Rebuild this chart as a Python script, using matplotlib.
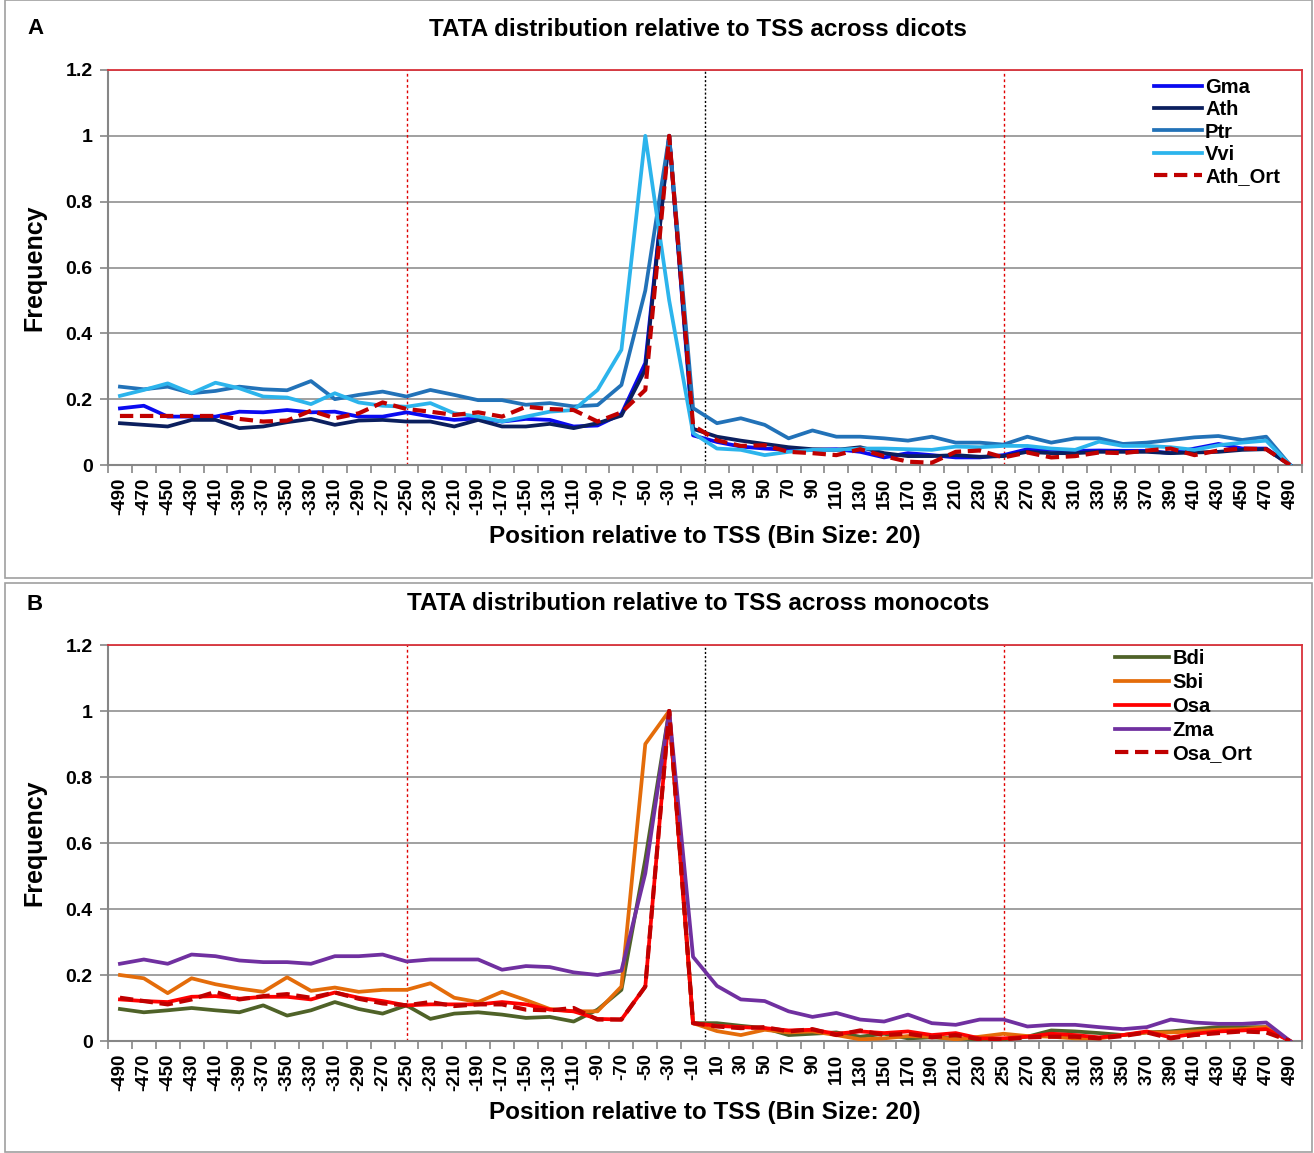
import matplotlib
matplotlib.use("Agg")
import matplotlib.pyplot as plt
import numpy as np
from matplotlib.patches import Rectangle

plt.rcParams['font.family'] = ['Liberation Sans', 'DejaVu Sans']

positions = [-490, -470, -450, -430, -410, -390, -370, -350, -330, -310, -290, -270, -250,
             -230, -210, -190, -170, -150, -130, -110, -90, -70, -50, -30, -10,
             10, 30, 50, 70, 90, 110, 130, 150, 170, 190, 210, 230, 250,
             270, 290, 310, 330, 350, 370, 390, 410, 430, 450, 470, 490]

# Panel A: dicots
gma = [0.172, 0.18, 0.147, 0.147, 0.147, 0.162, 0.16, 0.167, 0.16, 0.162, 0.147, 0.147, 0.16,
       0.147, 0.137, 0.142, 0.132, 0.14, 0.137, 0.117, 0.12, 0.155, 0.31, 1.0, 0.09,
       0.07, 0.056, 0.05, 0.046, 0.046, 0.048, 0.04, 0.023, 0.036, 0.03, 0.023, 0.023, 0.03,
       0.048, 0.046, 0.043, 0.044, 0.043, 0.043, 0.036, 0.05, 0.064, 0.05, 0.05, 0.0]
ath = [0.127, 0.122, 0.117, 0.137, 0.137, 0.112, 0.117, 0.13, 0.14, 0.122, 0.135, 0.137, 0.132,
       0.132, 0.117, 0.137, 0.117, 0.117, 0.125, 0.112, 0.127, 0.15, 0.29, 1.0, 0.11,
       0.086, 0.074, 0.064, 0.054, 0.048, 0.046, 0.054, 0.036, 0.027, 0.027, 0.03, 0.025, 0.027,
       0.04, 0.036, 0.036, 0.04, 0.04, 0.04, 0.036, 0.038, 0.04, 0.046, 0.048, 0.0]
ptr = [0.238, 0.23, 0.238, 0.218, 0.225, 0.238, 0.23, 0.227, 0.255, 0.2, 0.213, 0.223, 0.208,
       0.228, 0.213, 0.197, 0.197, 0.183, 0.188, 0.178, 0.182, 0.243, 0.53, 1.0, 0.173,
       0.127, 0.142, 0.122, 0.081, 0.105, 0.086, 0.086, 0.081, 0.074, 0.086, 0.068, 0.068, 0.062,
       0.086, 0.068, 0.081, 0.081, 0.064, 0.068, 0.076, 0.084, 0.088, 0.076, 0.086, 0.0]
vvi = [0.21, 0.228, 0.248, 0.218, 0.25, 0.233, 0.208, 0.205, 0.185, 0.218, 0.19, 0.18, 0.177,
       0.188, 0.157, 0.147, 0.132, 0.147, 0.162, 0.167, 0.228, 0.35, 1.0, 0.5, 0.097,
       0.05, 0.046, 0.03, 0.04, 0.046, 0.046, 0.05, 0.05, 0.048, 0.046, 0.056, 0.054, 0.058,
       0.058, 0.05, 0.046, 0.071, 0.058, 0.058, 0.054, 0.046, 0.06, 0.068, 0.074, 0.0]
ath_ort = [0.149, 0.149, 0.149, 0.149, 0.149, 0.14, 0.132, 0.135, 0.165, 0.142, 0.157, 0.19, 0.17,
           0.162, 0.152, 0.16, 0.147, 0.177, 0.17, 0.167, 0.132, 0.16, 0.228, 1.0, 0.12,
           0.075, 0.058, 0.06, 0.04, 0.036, 0.03, 0.048, 0.027, 0.01, 0.007, 0.04, 0.044, 0.023,
           0.038, 0.023, 0.027, 0.038, 0.036, 0.044, 0.05, 0.03, 0.044, 0.05, 0.048, 0.0]

# Panel B: monocots
bdi = [0.097, 0.087, 0.093, 0.1, 0.093, 0.087, 0.108, 0.077, 0.093, 0.118, 0.097, 0.083, 0.108,
       0.067, 0.083, 0.087, 0.08, 0.07, 0.073, 0.059, 0.095, 0.155, 0.55, 1.0, 0.054,
       0.054, 0.046, 0.039, 0.018, 0.022, 0.026, 0.013, 0.022, 0.008, 0.011, 0.008, 0.005, 0.005,
       0.013, 0.032, 0.029, 0.024, 0.018, 0.026, 0.029, 0.036, 0.042, 0.042, 0.042, 0.0]
sbi = [0.2, 0.19, 0.145, 0.19, 0.172, 0.159, 0.149, 0.193, 0.152, 0.162, 0.149, 0.155, 0.155,
       0.175, 0.131, 0.118, 0.149, 0.124, 0.097, 0.09, 0.09, 0.165, 0.9, 1.0, 0.054,
       0.03, 0.018, 0.034, 0.026, 0.029, 0.018, 0.005, 0.008, 0.015, 0.013, 0.005, 0.013, 0.022,
       0.015, 0.013, 0.008, 0.008, 0.018, 0.026, 0.026, 0.029, 0.034, 0.036, 0.042, 0.0]
osa = [0.126, 0.121, 0.118, 0.134, 0.136, 0.128, 0.134, 0.134, 0.126, 0.147, 0.131, 0.121, 0.108,
       0.111, 0.111, 0.111, 0.118, 0.111, 0.095, 0.09, 0.067, 0.065, 0.165, 1.0, 0.054,
       0.046, 0.042, 0.039, 0.032, 0.034, 0.022, 0.029, 0.024, 0.029, 0.018, 0.024, 0.008, 0.008,
       0.013, 0.022, 0.018, 0.011, 0.018, 0.029, 0.011, 0.022, 0.029, 0.032, 0.036, 0.0]
zma = [0.234, 0.247, 0.234, 0.262, 0.257, 0.244, 0.239, 0.239, 0.234, 0.257, 0.257, 0.262, 0.241,
       0.247, 0.247, 0.247, 0.216, 0.227, 0.224, 0.208, 0.2, 0.213, 0.508, 1.0, 0.255,
       0.167, 0.126, 0.121, 0.09, 0.073, 0.085, 0.065, 0.059, 0.08, 0.054, 0.049, 0.065, 0.065,
       0.044, 0.049, 0.049, 0.042, 0.036, 0.042, 0.065, 0.056, 0.052, 0.052, 0.056, 0.0]
osa_ort = [0.131, 0.121, 0.111, 0.126, 0.149, 0.126, 0.136, 0.142, 0.131, 0.147, 0.128, 0.114, 0.108,
           0.118, 0.106, 0.111, 0.111, 0.095, 0.093, 0.1, 0.065, 0.065, 0.165, 1.0, 0.054,
           0.044, 0.039, 0.042, 0.029, 0.036, 0.018, 0.032, 0.018, 0.022, 0.011, 0.018, 0.005, 0.005,
           0.011, 0.013, 0.013, 0.008, 0.015, 0.026, 0.008, 0.018, 0.024, 0.029, 0.026, 0.0]

yticks = [0, 0.2, 0.4, 0.6, 0.8, 1, 1.2]
ytick_labels = ["0", "0.2", "0.4", "0.6", "0.8", "1", "1.2"]

W, H = 1314, 1153
fig = plt.figure(figsize=(W / 100, H / 100), dpi=100)

GRAY = '#868686'
RED_BORDER = '#D9323A'


def fx(px):
    return px / W


def fy(py):
    return 1 - py / H


# panel frames
fig.patches.append(Rectangle((fx(5), fy(578)), fx(1312) - fx(5), fy(0) - fy(578),
                             transform=fig.transFigure, fill=False, edgecolor='#A0A0A0', lw=1.2))
fig.patches.append(Rectangle((fx(5), fy(1152)), fx(1312) - fx(5), fy(583) - fy(1152),
                             transform=fig.transFigure, fill=False, edgecolor='#A0A0A0', lw=1.2))


def make_panel(top, bottom, series, title, letter, title_y, leg_anchor, leg_hl, leg_sp):
    ax = fig.add_axes([fx(108), fy(bottom), fx(1302) - fx(108), fy(top) - fy(bottom)])
    idx = np.arange(len(positions))
    for name, vals, color, ls in series:
        if ls == 'dashed':
            ax.plot(idx, vals, color=color, lw=3.0, linestyle=(0, (3.2, 1.6)), label=name, zorder=4)
        else:
            ax.plot(idx, vals, color=color, lw=2.7, label=name, zorder=3)
    ax.set_xlim(-0.5, len(positions) - 0.5)
    ax.set_ylim(0, 1.2)
    ax.set_yticks(yticks)
    ax.set_yticklabels(ytick_labels, fontsize=14, fontweight='bold')
    ax.yaxis.grid(True, color=GRAY, lw=1.1)
    ax.set_axisbelow(True)
    ax.tick_params(axis='y', length=6, width=1.2, color=GRAY, pad=5)
    ax.set_xticks(np.arange(-0.5, len(positions), 1.0))
    ax.set_xticklabels([])
    ax.tick_params(axis='x', which='major', length=6, width=1.2, color=GRAY)
    ax.set_xticks(idx, minor=True)
    ax.set_xticklabels([str(p) for p in positions], minor=True, rotation=90,
                       fontsize=13.5, fontweight='bold')
    ax.tick_params(axis='x', which='minor', length=0, pad=9)
    for s in ['left', 'bottom']:
        ax.spines[s].set_color(GRAY)
        ax.spines[s].set_linewidth(1.5)
    for s in ['top', 'right']:
        ax.spines[s].set_color(RED_BORDER)
        ax.spines[s].set_linewidth(1.3)
    # reference lines
    ax.axvline(positions.index(-250), color='#E00000', lw=1.0, linestyle=(0, (2, 2)), zorder=2)
    ax.axvline(positions.index(250), color='#E00000', lw=1.0, linestyle=(0, (2, 2)), zorder=2)
    ax.axvline(positions.index(-10) + 0.5, color='black', lw=1.0, linestyle=(0, (1.5, 1.5)), zorder=2)
    ax.set_ylabel('Frequency', fontsize=18, fontweight='bold', labelpad=14)
    ax.set_xlabel('Position relative to TSS (Bin Size: 20)', fontsize=17.5, fontweight='bold', labelpad=7)
    fig.text(fx(698), fy(title_y), title, ha='center', va='center', fontsize=17.5, fontweight='bold')
    fig.text(fx(27), fy(title_y), letter, ha='left', va='center', fontsize=16, fontweight='bold')
    ax.legend(loc='upper right', bbox_to_anchor=leg_anchor, bbox_transform=fig.transFigure,
              frameon=False, handlelength=leg_hl, handletextpad=0.15, labelspacing=leg_sp,
              borderpad=0.2, prop={'weight': 'bold', 'size': 14.5})
    return ax


make_panel(70, 465,
           [('Gma', gma, '#0A0AF0', 'solid'),
            ('Ath', ath, '#0B1F5E', 'solid'),
            ('Ptr', ptr, '#2272B8', 'solid'),
            ('Vvi', vvi, '#2CB4EC', 'solid'),
            ('Ath_Ort', ath_ort, '#C00000', 'dashed')],
           'TATA distribution relative to TSS across dicots', 'A', 29, (fx(1294), fy(64)), 2.4, 0.16)

make_panel(645, 1041,
           [('Bdi', bdi, '#4F6228', 'solid'),
            ('Sbi', sbi, '#E46C0A', 'solid'),
            ('Osa', osa, '#FF0000', 'solid'),
            ('Zma', zma, '#7030A0', 'solid'),
            ('Osa_Ort', osa_ort, '#C00000', 'dashed')],
           'TATA distribution relative to TSS across monocots', 'B', 604, (fx(1266), fy(635)), 2.7, 0.24)

fig.savefig('out.png', dpi=100)
